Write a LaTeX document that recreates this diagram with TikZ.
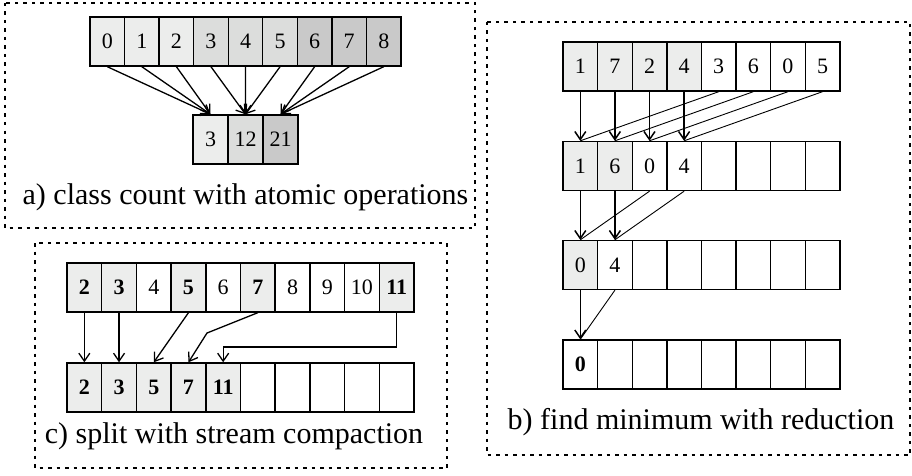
\documentclass[tikz,border=0pt]{standalone}
\usepackage{fontspec}
\setmainfont{Liberation Serif}
\usetikzlibrary{arrows.meta}
\definecolor{lightc}{HTML}{ECEDEC}
\definecolor{midc}{HTML}{DCDDDC}
\definecolor{darkc}{HTML}{C9C9C9}
\tikzset{
  cell/.style={draw=black,line width=1.4pt,minimum width=34.6pt,minimum height=49pt,inner sep=0pt,font=\fontsize{22}{22}\selectfont},
  panel/.style={draw=black,line width=1.3pt,dash pattern=on 3.5pt off 5pt},
  caption/.style={anchor=base,inner sep=0pt,font=\fontsize{30}{30}\selectfont},
  arr/.style={line width=1.3pt,-{Straight Barb[length=8pt,width=11pt,line width=1.3pt]}},
  thickarr/.style={line width=1.6pt,-{Straight Barb[length=8pt,width=11pt,line width=1.5pt]}},
  thinline/.style={line width=0.9pt},
}
\begin{document}
\begin{tikzpicture}[x=1pt,y=-1pt]
\useasboundingbox (0,0) rectangle (912,476);
% ---------- panel a ----------
\draw[panel] (5,3) rectangle (475,228);
\foreach \v [count=\i from 0] in {0,...,8}{
  \pgfmathtruncatemacro{\g}{int(\i/3)}
  \ifcase\g \def\col{lightc}\or \def\col{midc}\else \def\col{darkc}\fi
  \node[cell,fill=\col] (a\i) at ({90+34.56*(\i+0.5)},41.5) {\v};
}
\node[cell,fill=lightc,minimum width=35pt] (ab0) at (210.5,139.5) {3};
\node[cell,fill=midc,minimum width=35pt] (ab1) at (245.5,139.5) {12};
\node[cell,fill=darkc,minimum width=35pt] (ab2) at (280.5,139.5) {21};
\foreach \i in {0,1,2}{\draw[arr] (a\i.south) -- (ab0.north);}
\foreach \i in {3,4,5}{\draw[arr] (a\i.south) -- (ab1.north);}
\foreach \i in {6,7,8}{\draw[arr] (a\i.south) -- (ab2.north);}
\node[caption] (capa) at (245.5,204) {a) class count with atomic operations};
% ---------- panel c ----------
\draw[panel] (35,243) rectangle (447,468);
\foreach \v/\f/\b [count=\i from 0] in {2/lightc/1,3/lightc/1,4/white/0,5/lightc/1,6/white/0,7/lightc/1,8/white/0,9/white/0,10/white/0,11/lightc/1}{
  \node[cell,fill=\f] (c\i) at ({67+34.7*(\i+0.5)},287.5) {\ifnum\b=1 \textbf{\v}\else\v\fi};
}
\foreach \v/\f [count=\i from 0] in {2/lightc,3/lightc,5/lightc,7/lightc,11/lightc,/white,/white,/white,/white,/white}{
  \node[cell,fill=\f] (d\i) at ({67+34.7*(\i+0.5)},387.5) {\textbf{\v}};
}
\draw[arr] (c0.south) -- (d0.north);
\draw[arr] (c1.south) -- (d1.north);
\draw[arr] (c3.south) -- (d2.north);
\coordinate (bend7) at (207,333);
\draw[arr] (c5.south) -- (bend7) -- (d3.north);
\coordinate (bend11) at (d4.north |- 0,347);
\draw[arr] (c9.south) |- (bend11) -- (d4.north);
\node[caption] (capc) at (234,443) {c) split with stream compaction};
% ---------- panel b ----------
\draw[panel] (487,22) rectangle (910,455);
\foreach \v/\f [count=\i from 0] in {1/lightc,7/lightc,2/lightc,4/lightc,3/white,6/white,0/white,5/white}{
  \node[cell,fill=\f] (r1\i) at ({563+34.6*(\i+0.5)},66.5) {\v};
}
\foreach \v/\f [count=\i from 0] in {1/lightc,6/lightc,0/white,4/white,/white,/white,/white,/white}{
  \node[cell,fill=\f] (r2\i) at ({563+34.6*(\i+0.5)},166) {\v};
}
\foreach \v/\f [count=\i from 0] in {0/lightc,4/white,/white,/white,/white,/white,/white,/white}{
  \node[cell,fill=\f] (r3\i) at ({563+34.6*(\i+0.5)},265) {\v};
}
\foreach \v [count=\i from 0] in {\textbf{0},,,,,,,}{
  \node[cell,fill=white] (r4\i) at ({563+34.6*(\i+0.5)},364.5) {\v};
}
\foreach \i in {0,1,2,3}{
  \pgfmathtruncatemacro{\j}{\i+4}
  \draw[thinline] (r1\j.south) -- (r2\i.north);
  \draw[thickarr] (r1\i.south) -- (r2\i.north);
}
\foreach \i in {0,1}{
  \pgfmathtruncatemacro{\j}{\i+2}
  \draw[thinline] (r2\j.south) -- (r3\i.north);
  \draw[thickarr] (r2\i.south) -- (r3\i.north);
}
\draw[thinline] (r31.south) -- (r40.north);
\draw[thickarr] (r30.south) -- (r40.north);
\node[caption] (capb) at (701,429) {b) find minimum with reduction};
\end{tikzpicture}
\end{document}
